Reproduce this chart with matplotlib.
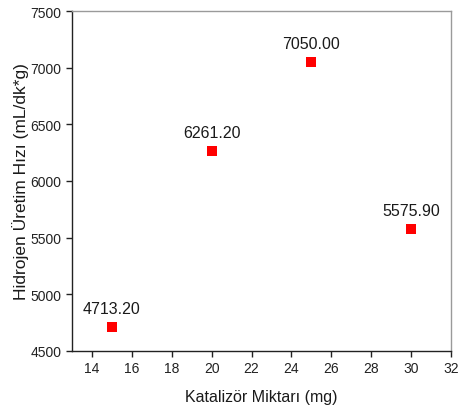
import matplotlib
matplotlib.use("Agg")
import matplotlib.pyplot as plt

plt.rcParams['font.family'] = ['Liberation Sans', 'DejaVu Sans']

catalyst_mg = [15, 20, 25, 30]
h2_rate = [4713.20, 6261.20, 7050.00, 5575.90]
x_ticks = [14, 16, 18, 20, 22, 24, 26, 28, 30, 32]
y_ticks = [4500, 5000, 5500, 6000, 6500, 7000, 7500]

fig = plt.figure(figsize=(4.59, 4.10), dpi=100)
ax = fig.add_axes([0.157, 0.1415, 0.8256, 0.8292])

ax.plot(catalyst_mg, h2_rate, linestyle='none', marker='s', markersize=6.5,
        color='#ff0000', markeredgewidth=0)

for x, y in zip(catalyst_mg, h2_rate):
    ax.annotate(f"{y:.2f}", (x, y), xytext=(0, 8), textcoords='offset points',
                ha='center', va='bottom', fontsize=11.5, color='#1a1a1a')

ax.set_xlim(13, 32)
ax.set_ylim(4500, 7500)
ax.set_xticks(x_ticks)
ax.set_yticks(y_ticks)
ax.tick_params(direction='out', length=4, width=1, labelsize=10,
               colors='#222222', top=False, right=False)

for side in ('left', 'bottom'):
    ax.spines[side].set_color('#222222')
    ax.spines[side].set_linewidth(1)
for side in ('top', 'right'):
    ax.spines[side].set_color('#9a9a9a')
    ax.spines[side].set_linewidth(1)

ax.set_xlabel('Katalizör Miktarı (mg)', fontsize=11.5, color='#1a1a1a', labelpad=10)
ax.set_ylabel('Hidrojen Üretim Hızı (mL/dk*g)', fontsize=12.5, color='#1a1a1a', labelpad=1)

fig.savefig('out.png', dpi=100)
